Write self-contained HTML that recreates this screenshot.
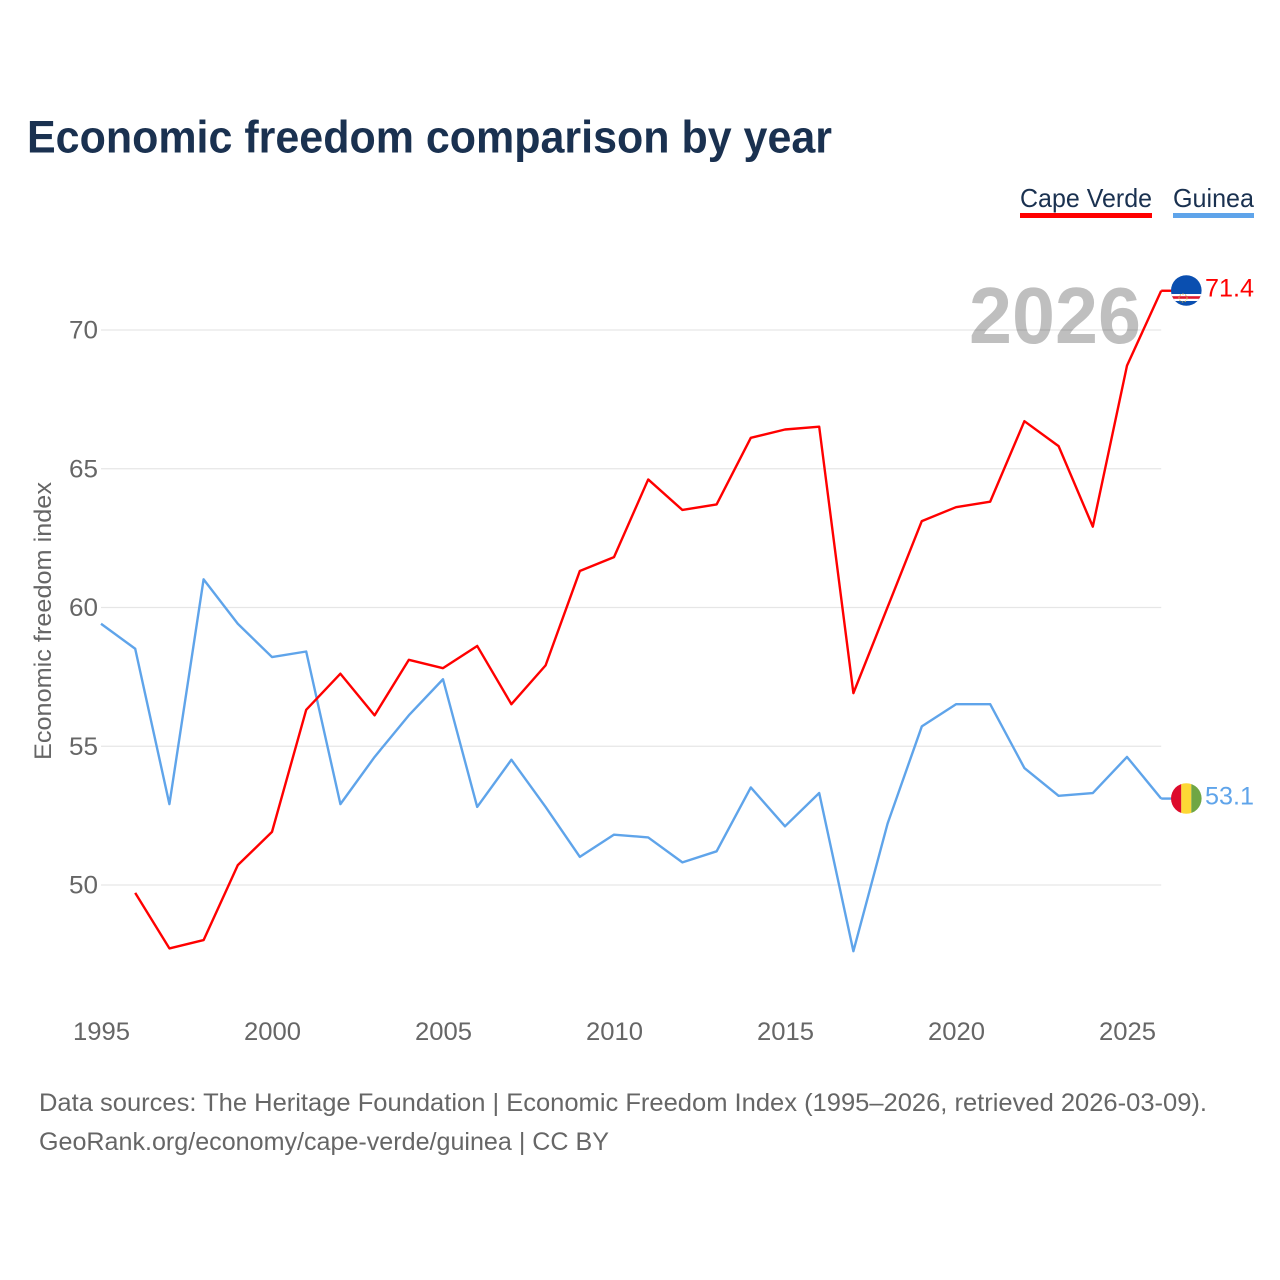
<!DOCTYPE html>
<html>
<head>
<meta charset="utf-8">
<title>Economic freedom comparison by year</title>
<style>
html,body{margin:0;padding:0;background:#fff}
svg{display:block}
text{font-family:"Liberation Sans",sans-serif}
</style>
</head>
<body>
<svg id="chart" width="1280" height="1280" viewBox="0 0 1280 1280" xmlns="http://www.w3.org/2000/svg">
  <defs>
    <clipPath id="flag-clip-cv"><circle cx="1186.3" cy="290.5" r="15.3"/></clipPath>
    <clipPath id="flag-clip-gn"><circle cx="1186.3" cy="798.5" r="15.3"/></clipPath>
  </defs>
  <rect width="1280" height="1280" fill="#fff"/>
  <text x="27" y="152.5" font-size="45" font-weight="700" fill="#1a3150" textLength="805" lengthAdjust="spacingAndGlyphs">Economic freedom comparison by year</text>

  <g>
    <text x="1020" y="207" font-size="26" fill="#1a3150" textLength="132" lengthAdjust="spacingAndGlyphs">Cape Verde</text>
    <rect x="1020" y="213" width="132" height="5" fill="#ff0000"/>
  </g>
  <g>
    <text x="1173" y="207" font-size="26" fill="#1a3150" textLength="81" lengthAdjust="spacingAndGlyphs">Guinea</text>
    <rect x="1173" y="213" width="81" height="5" fill="#5fa4ea"/>
  </g>

  <g id="grid"></g>
  <g id="y-ticks"></g>
  <g id="x-ticks"></g>
  <text transform="translate(51 760) rotate(-90)" font-size="24" fill="#666" textLength="278" lengthAdjust="spacingAndGlyphs">Economic freedom index</text>

  <g id="series"></g>

  <text x="969" y="343" font-size="80" font-weight="700" fill="#000" fill-opacity="0.25" textLength="172" lengthAdjust="spacingAndGlyphs">2026</text>

  <g clip-path="url(#flag-clip-cv)">
    <rect x="1170" y="274" width="32" height="33" fill="#0a4fb0"/>
    <rect x="1170" y="294" width="32" height="7" fill="#fff"/>
    <rect x="1170" y="296.2" width="32" height="2.6" fill="#e0182d"/>
    <circle cx="1183" cy="298" r="4" fill="none" stroke="#d8b54a" stroke-width="1" stroke-dasharray="1.5 1.5"/>
  </g>
  <text id="label-cv" x="1205" y="296.5" font-size="25" fill="#ff0000" textLength="49" lengthAdjust="spacingAndGlyphs"></text>

  <g clip-path="url(#flag-clip-gn)">
    <rect x="1170" y="782" width="11.3" height="33" fill="#dd0b2c"/>
    <rect x="1181.3" y="782" width="10" height="33" fill="#fdd835"/>
    <rect x="1191.3" y="782" width="11" height="33" fill="#6fa644"/>
  </g>
  <text id="label-gn" x="1205" y="804.5" font-size="25" fill="#5fa4ea" textLength="49" lengthAdjust="spacingAndGlyphs"></text>

  <text x="39" y="1111" font-size="25" fill="#666" textLength="1168" lengthAdjust="spacingAndGlyphs">Data sources: The Heritage Foundation | Economic Freedom Index (1995–2026, retrieved 2026-03-09).</text>
  <text x="39" y="1150" font-size="25" fill="#666" textLength="570" lengthAdjust="spacingAndGlyphs">GeoRank.org/economy/cape-verde/guinea | CC BY</text>
</svg>
<script>
const years = [1995,1996,1997,1998,1999,2000,2001,2002,2003,2004,2005,2006,2007,2008,2009,2010,2011,2012,2013,2014,2015,2016,2017,2018,2019,2020,2021,2022,2023,2024,2025,2026];
const capeVerde = [null,49.7,47.7,48.0,50.7,51.9,56.3,57.6,56.1,58.1,57.8,58.6,56.5,57.9,61.3,61.8,64.6,63.5,63.7,66.1,66.4,66.5,56.9,60.0,63.1,63.6,63.8,66.7,65.8,62.9,68.7,71.4];
const guinea = [59.4,58.5,52.9,61.0,59.4,58.2,58.4,52.9,54.6,56.1,57.4,52.8,54.5,52.8,51.0,51.8,51.7,50.8,51.2,53.5,52.1,53.3,47.6,52.2,55.7,56.5,56.5,54.2,53.2,53.3,54.6,53.1];
const yTicks = [50,55,60,65,70];
const xTicks = [1995,2000,2005,2010,2015,2020,2025];

const NS = 'http://www.w3.org/2000/svg';
const xScale = function (year) { return 101 + (year - 1995) * 34.2; };
const yScale = function (value) { return 884.6 - (value - 50) * 27.75; };

yTicks.forEach(function (tick) {
  const line = document.createElementNS(NS, 'line');
  
  
  line.setAttribute('x1', xScale(1995));
  line.setAttribute('x2', xScale(2026));
  line.setAttribute('y1', yScale(tick) + 0.4);
  line.setAttribute('y2', yScale(tick) + 0.4);
  line.setAttribute('stroke', '#e6e6e6');
  line.setAttribute('stroke-width', '1.2');
  document.getElementById('grid').appendChild(line);

  const label = document.createElementNS(NS, 'text');
  
  
  label.setAttribute('x', 98);
  label.setAttribute('y', yScale(tick) + 9);
  label.setAttribute('text-anchor', 'end');
  label.setAttribute('font-size', '25');
  label.setAttribute('fill', '#666');
  label.setAttribute('textLength', '29');
  label.setAttribute('lengthAdjust', 'spacingAndGlyphs');
  label.textContent = tick;
  document.getElementById('y-ticks').appendChild(label);
});

xTicks.forEach(function (tick) {
  const label = document.createElementNS(NS, 'text');
  
  
  label.setAttribute('x', xScale(tick) + 0.5);
  label.setAttribute('y', 1040);
  label.setAttribute('text-anchor', 'middle');
  label.setAttribute('font-size', '25');
  label.setAttribute('fill', '#666');
  label.setAttribute('textLength', '57');
  label.setAttribute('lengthAdjust', 'spacingAndGlyphs');
  label.textContent = tick;
  document.getElementById('x-ticks').appendChild(label);
});

function drawSeries(values, color, name) {
  const pts = [];
  values.forEach(function (v, i) {
    if (v !== null) pts.push(xScale(years[i]).toFixed(2) + ',' + yScale(v).toFixed(2));
  });
  const last = values[values.length - 1];
  const line = document.createElementNS(NS, 'polyline');
  
  
  line.setAttribute('points', pts.join(' '));
  line.setAttribute('fill', 'none');
  line.setAttribute('stroke', color);
  line.setAttribute('stroke-width', '2.4');
  line.setAttribute('stroke-linejoin', 'round');
  document.getElementById('series').appendChild(line);

  const connector = document.createElementNS(NS, 'line');
  
  
  connector.setAttribute('x1', xScale(years[years.length - 1]));
  connector.setAttribute('x2', xScale(years[years.length - 1]) + 12);
  connector.setAttribute('y1', yScale(last));
  connector.setAttribute('y2', yScale(last));
  connector.setAttribute('stroke', color);
  connector.setAttribute('stroke-width', '2.4');
  document.getElementById('series').appendChild(connector);
}
drawSeries(guinea, '#5fa4ea', 'line-guinea');
drawSeries(capeVerde, '#ff0000', 'line-cape-verde');

document.getElementById('label-cv').textContent = capeVerde[capeVerde.length - 1].toFixed(1);
document.getElementById('label-gn').textContent = guinea[guinea.length - 1].toFixed(1);
</script>
</body>
</html>
